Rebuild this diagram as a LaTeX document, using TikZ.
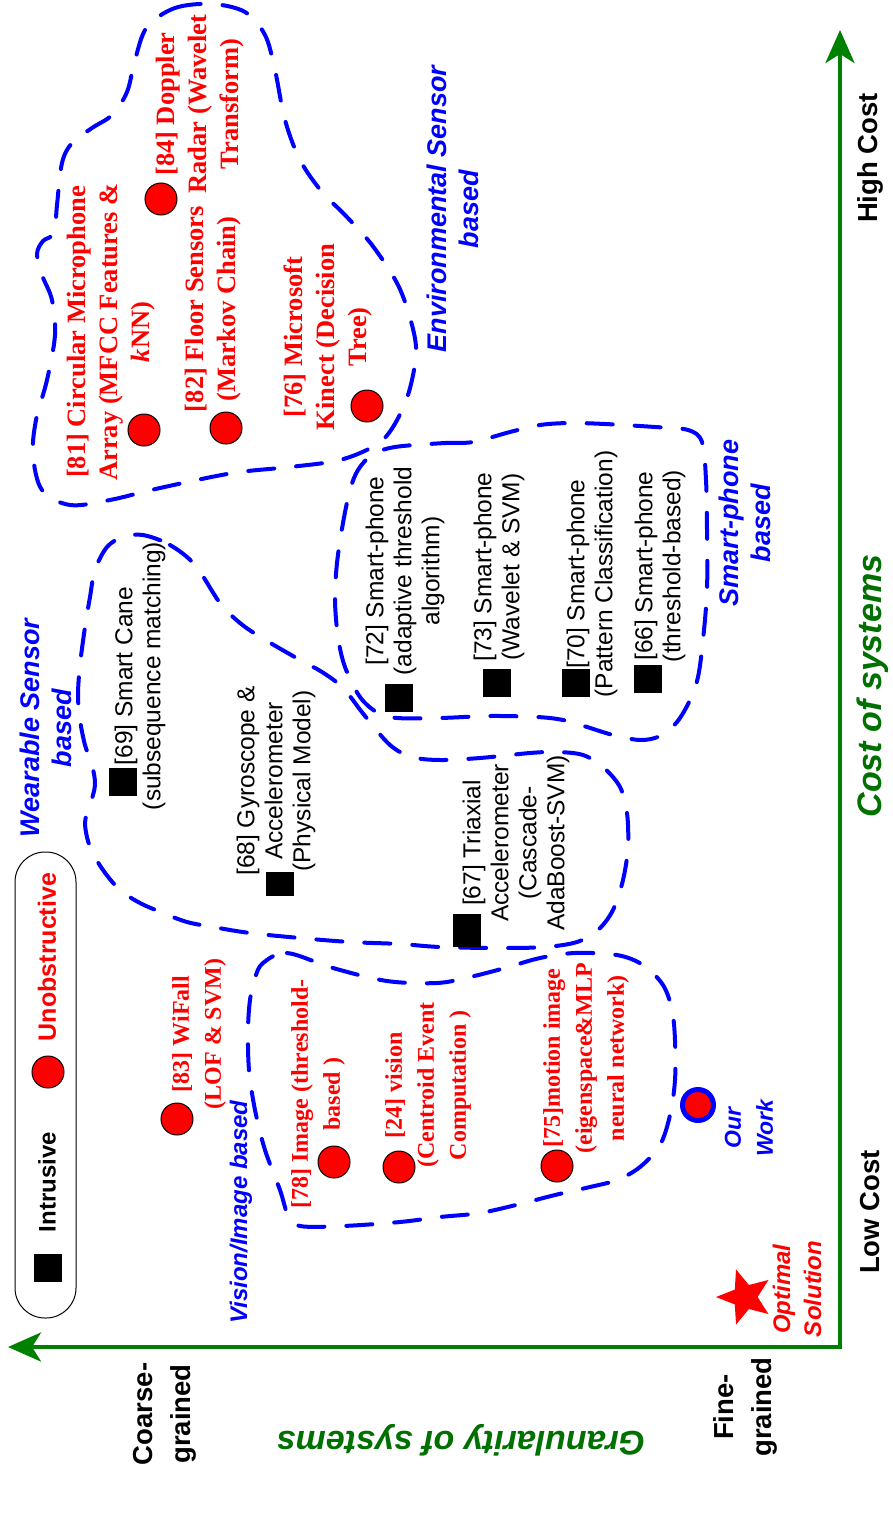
\documentclass[tikz,border=0pt]{standalone}
\usepackage{fontspec}
\setmainfont{Liberation Serif}
\setsansfont{Liberation Sans}
\usetikzlibrary{shapes.geometric, arrows.meta, positioning}
\definecolor{myred}{RGB}{255,0,0}
\definecolor{myblue}{RGB}{0,0,255}
\definecolor{mygreen}{RGB}{0,128,0}
\definecolor{mydkgreen}{RGB}{0,112,0}
\tikzset{
  reftxt/.style={rotate=90, align=center, inner sep=0pt, text=myred,
    font=\fontsize{24}{32}\selectfont\bfseries},
  envtxt/.style={reftxt, font=\fontsize{26.5}{32}\selectfont\bfseries},
  sensortxt/.style={rotate=90, align=center, inner sep=0pt, text=black,
    font=\sffamily\fontsize{24.5}{28}\selectfont},
  grouptxt/.style={rotate=90, align=center, inner sep=0pt, text=myblue,
    font=\sffamily\bfseries\itshape\fontsize{27}{32}\selectfont},
  axistxt/.style={rotate=90, align=center, inner sep=0pt,
    font=\sffamily\bfseries\fontsize{27.5}{38}\selectfont},
  axistitle/.style={inner sep=0pt, text=mydkgreen,
    font=\sffamily\bfseries\itshape\fontsize{34}{40}\selectfont},
  reddot/.style={circle, draw=black, fill=myred, line width=1pt,
    minimum size=32pt, inner sep=0pt},
  blacksq/.style={rectangle, fill=black, minimum size=28pt, inner sep=0pt},
  blob/.style={draw=myblue, line width=4pt, line cap=round,
    dash pattern=on 26pt off 22pt},
  axis/.style={draw=mygreen, line width=4pt, line join=miter,
    {Stealth[length=33pt,width=29pt,inset=9pt]}-{Stealth[length=33pt,width=29pt,inset=9pt]}}
}
\begin{document}
\begin{tikzpicture}[x=1pt, y=-1pt]
  \useasboundingbox (0,0) rectangle (892,1525);

  % Axes
  \coordinate (O) at (840,1347);
  \coordinate (costTip) at (840,30);
  \coordinate (granTip) at (8,1347);
  \draw[axis] (granTip) -- (O) -- (costTip);
  \node[axistxt] (high) at (870,158) {High Cost};
  \node[axistxt] (low) at (870,1212) {Low Cost};
  \node[axistxt] (coarse) at (165,1414) {Coarse-\\grained};
  \node[axistxt] (fine) at (745,1407) {Fine-\\grained};
  \node[axistitle, rotate=90] (costT) at (873,686) {Cost of systems};
  \node[axistitle, rotate=180] (granT) at (461,1440) {Granularity of systems};

  % Legend
  \node[draw=black, line width=1pt, rounded corners=30pt, minimum width=61pt,
    minimum height=466pt, inner sep=0pt] (legend) at (45.5,1085) {};
  \node[blacksq] (lgsq) at (48,1268) {};
  \node[rotate=90, inner sep=0pt, font=\sffamily\bfseries\fontsize{24}{28}\selectfont] (lgint) at (47,1182) {Intrusive};
  \node[reddot] (lgdot) at (48,1072) {};
  \node[rotate=90, inner sep=0pt, text=myred, font=\sffamily\bfseries\fontsize{25}{28}\selectfont] (lgunob) at (47,957) {Unobstructive};

  % Groups
  \draw[blob] plot[smooth cycle, tension=0.55] coordinates {
    (147,27) (175,8) (212,4) (245,12) (265,35) (275,70) (285,120) (300,160)
    (322,192) (345,215) (372,245) (398,285) (412,325) (416,355) (408,395)
    (393,427) (376,445) (340,460) (290,467) (233,473) (160,488) (110,500)
    (70,505) (42,490) (33,455) (36,420) (47,380) (55,335) (52,300) (42,275)
    (37,254) (43,241) (54,233) (57,205) (62,163) (72,143) (92,128) (112,115)
    (127,92) (135,60)};
  \draw[blob] plot[smooth cycle, tension=0.55] coordinates {
    (143,535) (170,545) (195,565) (220,603) (240,623) (262,638) (300,660)
    (322,672) (343,688) (365,716) (390,745) (412,757) (440,760) (480,758)
    (530,753) (557,752) (583,755) (603,767) (620,787) (627,813) (628,847)
    (623,880) (613,910) (598,930) (577,942) (545,947) (500,948) (440,947)
    (400,944) (350,942) (300,938) (250,933) (213,927) (187,922) (163,913)
    (140,903) (120,890) (103,870) (90,847) (85,823) (90,805) (95,785)
    (92,765) (85,745) (80,720) (78,695) (80,665) (85,627) (90,597) (95,570)
    (107,547) (123,537)};
  \draw[blob] plot[smooth cycle, tension=0.55] coordinates {
    (395,447) (445,443) (473,442) (510,432) (540,425) (570,423) (605,424)
    (655,427) (688,430) (702,442) (706,480) (707,530) (707,590) (703,640)
    (698,677) (690,700) (677,722) (660,736) (640,740) (613,735) (587,727)
    (563,720) (537,717) (490,716) (440,718) (397,718) (378,713) (360,697)
    (345,667) (338,637) (335,600) (337,563) (343,523) (350,490) (358,470)
    (372,455)};
  \draw[blob] plot[smooth cycle, tension=0.55] coordinates {
    (263,963) (287,953) (333,968) (387,981) (437,983) (470,977) (505,968)
    (540,958) (575,953) (617,955) (643,965) (663,985) (672,1010) (675,1040)
    (675,1080) (670,1115) (660,1145) (640,1167) (617,1180) (590,1187)
    (555,1195) (520,1204) (480,1213) (440,1217) (400,1222) (343,1226)
    (300,1226) (288,1215) (280,1190) (265,1150) (255,1110) (249,1070)
    (248,1030) (250,1000) (255,978)};
  \node[grouptxt] (envL) at (453,209) {Environmental Sensor\\based};
  \node[grouptxt] (wearL) at (46,728) {Wearable Sensor\\based};
  \node[grouptxt] (smartL) at (745,523) {Smart-phone\\based};
  \node[grouptxt, font=\sffamily\bfseries\itshape\fontsize{24}{28}\selectfont] (visL) at (241,1212) {Vision/Image based};

  % Environmental sensor systems
  \node[reddot] (c81) at (144,430) {};
  \node[envtxt] (t81) at (111,332) {[81] Circular Microphone\\Array (MFCC Features \&\\\textit{k}NN)};
  \node[reddot] (c82) at (226,428) {};
  \node[envtxt] (t82) at (213,309) {[82] Floor Sensors\\(Markov Chain)};
  \node[reddot] (c84) at (161,199) {};
  \node[envtxt] (t84) at (200,104) {[84] Doppler\\Radar (Wavelet\\Transform)};
  \node[reddot] (c76) at (367,406) {};
  \node[envtxt] (t76) at (328,337) {[76] Microsoft\\Kinect (Decision\\Tree)};

  % Wearable sensor systems
  \node[blacksq] (s69) at (123,782) {};
  \node[sensortxt] (t69) at (140,676) {[69] Smart Cane\\(subsequence matching)};
  \node[blacksq, minimum height=24pt] (s68) at (280,884) {};
  \node[sensortxt] (t68) at (276,781) {[68] Gyroscope \&\\Accelerometer\\(Physical Model)};
  \node[blacksq, minimum height=33pt] (s67) at (467,930) {};
  \node[sensortxt] (t67) at (516,843) {[67] Triaxial\\Accelerometer\\(Cascade-\\AdaBoost-SVM)};

  % Smart-phone systems
  \node[blacksq] (s72) at (399,698) {};
  \node[sensortxt] (t72) at (405,571) {[72] Smart-phone\\(adaptive threshold\\algorithm)};
  \node[blacksq] (s73) at (497,683) {};
  \node[sensortxt] (t73) at (499,567) {[73] Smart-phone\\(Wavelet \& SVM)};
  \node[blacksq] (s70) at (576,683) {};
  \node[sensortxt] (t70) at (592,574) {[70] Smart-phone\\(Pattern Classification)};
  \node[blacksq] (s66) at (648,679) {};
  \node[sensortxt] (t66) at (660,566) {[66] Smart-phone\\(threshold-based)};

  % Vision based systems
  \node[reddot] (c83) at (177,1119) {};
  \node[reftxt] (t83) at (199,1034) {[83] WiFall\\(LOF \& SVM)};
  \node[reddot] (c78) at (334,1162) {};
  \node[reftxt] (t78) at (318,1094) {[78] Image (threshold-\\based )};
  \node[reddot] (c24) at (399,1167) {};
  \node[reftxt] (t24) at (428,1085) {[24] vision\\(Centroid Event\\Computation )};
  \node[reddot] (c75) at (557,1166) {};
  \node[reftxt] (t75) at (586,1058) {[75]motion image\\(eigenspace\&MLP\\neural network)};

  % Our work and optimum
  \node[circle, draw=myblue, fill=myred, line width=5pt, minimum size=31pt, inner sep=0pt] (our) at (698,1105) {};
  \node[grouptxt, font=\sffamily\bfseries\itshape\fontsize{23}{32}\selectfont] (ourL) at (749,1128) {Our\\Work};
  \node[star, star points=5, star point ratio=2.3, minimum size=58pt, fill=myred, rotate=90, inner sep=0pt] (opt) at (745,1297) {};
  \node[grouptxt, text=myred, font=\sffamily\bfseries\itshape\fontsize{24}{31}\selectfont] (optL) at (797,1289) {Optimal\\Solution};
\end{tikzpicture}
\end{document}
